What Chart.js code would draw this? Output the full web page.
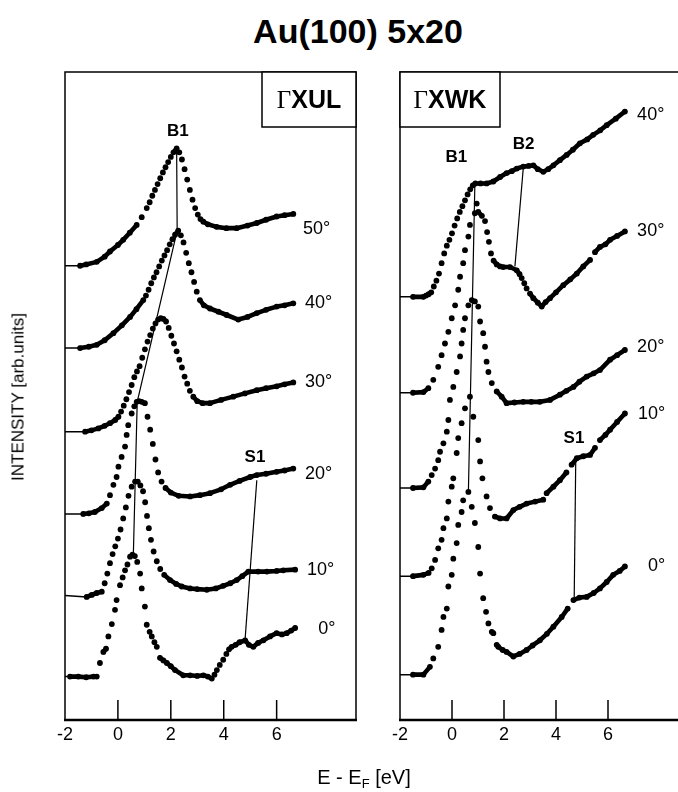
<!DOCTYPE html>
<html>
<head>
<meta charset="utf-8">
<script src="https://cdn.jsdelivr.net/npm/chart.js@4.4.1/dist/chart.umd.min.js"></script>
<style>
html, body { margin:0; padding:0; background:#fff; overflow:hidden; }
#wrap { position:relative; width:678px; height:792px; overflow:hidden; background:#fff; font-family:"Liberation Sans", Arial, sans-serif; color:#000; }
#title { position:absolute; left:0; width:716px; top:14px; text-align:center; font-weight:bold; font-size:34px; line-height:1; white-space:nowrap; }
#xlabel { position:absolute; left:0; width:728px; top:767px; text-align:center; font-size:20px; line-height:1; white-space:nowrap; }
#xlabel sub { font-size:13px; vertical-align:-4px; line-height:0; }
#ylabel { position:absolute; left:18px; top:397px; transform:translate(-50%,-50%) rotate(-90deg); font-size:17px; line-height:1; white-space:nowrap; }
canvas { position:absolute; top:0; }
</style>
</head>
<body>
<div id="wrap">
  <div id="title">Au(100) 5x20</div>
  <canvas id="cL" width="380" height="792" style="left:0;width:380px;height:792px"></canvas>
  <canvas id="cR" width="330" height="792" style="left:370px;width:330px;height:792px"></canvas>
  <div id="ylabel">INTENSITY [arb.units]</div>
  <div id="xlabel">E - E<sub>F</sub> [eV]</div>
</div>
<script>
// ---------- axis ----------
const tickValues = [-2, 0, 2, 4, 6];
const xMin = -2, xMax = 9, yMin = 0, yMax = 100;

// ---------- left panel (Gamma X U L) ----------
const eL50 = [-2,-1.43,-1.2,-0.8,-0.5,-0.3,0,0.2,0.45,0.71,0.9,1.09,1.2,1.3,1.4,1.5,1.6,1.7,1.8,1.9,2.0,2.1,2.22,2.32,2.42,2.52,2.62,2.72,2.82,2.92,3.02,3.12,3.23,3.4,3.73,4.1,4.49,4.9,5.25,5.6,6.0,6.3,6.63];
const iL50 = [70.1,70.1,70.3,70.7,71.5,72.3,73.3,74.1,75.2,76.4,77.6,79.0,79.9,80.9,81.8,82.7,83.6,84.5,85.3,86.1,86.9,87.6,88.2,87.6,86.5,85.0,83.4,81.8,80.3,79.0,78.0,77.3,76.9,76.5,76.1,75.9,75.9,76.3,76.7,77.2,77.7,77.9,78.1];

const eL40 = [-2,-1.43,-1.1,-0.8,-0.5,-0.17,0.15,0.46,0.7,0.96,1.06,1.16,1.26,1.36,1.46,1.56,1.66,1.76,1.86,1.96,2.06,2.16,2.28,2.38,2.48,2.58,2.68,2.78,2.88,2.98,3.10,3.25,3.48,3.8,4.11,4.55,4.9,5.25,5.6,6.0,6.3,6.63];
const iL40 = [57.4,57.4,57.6,57.9,58.6,59.7,60.9,62.2,63.4,64.8,65.5,66.4,67.4,68.3,69.1,70.0,70.9,71.7,72.5,73.4,74.2,74.9,75.5,74.8,73.7,72.1,70.5,69.1,67.6,66.1,64.8,64.0,63.5,63.0,62.5,61.8,62.2,62.8,63.3,63.8,64.0,64.3];

const eL30 = [-2,-1.24,-1.0,-0.74,-0.5,-0.3,-0.1,0.02,0.12,0.22,0.32,0.42,0.52,0.62,0.72,0.82,0.92,1.02,1.12,1.22,1.32,1.42,1.52,1.62,1.72,1.82,1.92,2.02,2.12,2.22,2.32,2.42,2.52,2.62,2.72,2.85,3.0,3.2,3.48,3.9,4.36,4.8,5.25,5.6,6.0,6.3,6.63];
const iL30 = [44.5,44.5,44.7,45.0,45.4,45.8,46.3,46.8,47.6,48.5,49.5,50.6,51.7,52.9,53.8,54.6,55.9,57.2,58.4,59.4,60.4,61.2,61.8,62.0,61.9,61.5,60.5,59.3,58.1,56.9,55.6,54.4,53.0,51.9,50.8,49.9,49.2,48.9,48.9,49.4,49.9,50.4,50.9,51.2,51.5,51.8,52.1];

const eL20 = [-2,-1.31,-1.1,-0.87,-0.61,-0.42,-0.30,-0.17,-0.05,0.02,0.14,0.27,0.33,0.39,0.52,0.62,0.71,0.80,0.90,1.02,1.12,1.22,1.32,1.42,1.52,1.65,1.8,2.0,2.3,2.73,3.1,3.48,3.9,4.24,4.6,5.0,5.25,5.6,6.0,6.3,6.63];
const iL20 = [31.8,31.8,31.9,32.1,32.7,33.4,34.7,36.3,37.5,39.1,40.6,42.2,44.0,45.5,47.3,48.4,49.1,49.2,49.1,48.9,46.8,44.8,42.6,40.2,38.2,36.8,35.8,35.1,34.6,34.5,34.7,35.0,35.6,36.3,36.9,37.5,37.8,38.0,38.3,38.5,38.8];

const eL10 = [-2,-1.18,-0.99,-0.80,-0.61,-0.5,-0.4,-0.3,-0.2,-0.1,0.0,0.1,0.2,0.3,0.4,0.52,0.65,0.75,0.85,0.95,1.03,1.1,1.17,1.25,1.35,1.47,1.6,1.75,1.97,2.2,2.41,2.73,3.0,3.36,3.7,3.98,4.25,4.49,4.7,4.93,5.3,5.63,6.0,6.25,6.7];
const iL10 = [19.2,19.0,19.3,19.6,19.8,21.1,22.6,24.2,25.6,26.8,28.0,29.4,31.1,32.8,34.6,36.0,36.8,36.8,36.2,35.3,33.6,31.5,29.6,27.8,26.0,24.5,23.3,22.4,21.6,21.0,20.6,20.3,20.2,20.1,20.3,20.7,21.1,21.6,22.2,22.9,22.9,22.9,23.0,23.1,23.2];

const eL0 = [-2,-1.81,-1.5,-1.2,-0.92,-0.80,-0.68,-0.55,-0.45,-0.36,-0.23,-0.11,-0.05,0.08,0.18,0.27,0.36,0.46,0.55,0.64,0.73,0.84,0.90,1.02,1.09,1.2,1.28,1.38,1.47,1.59,1.72,1.85,2.0,2.16,2.47,2.73,3.0,3.23,3.4,3.55,3.65,3.74,3.85,3.98,4.1,4.2,4.3,4.45,4.6,4.81,4.95,5.12,5.3,5.5,5.75,6.0,6.2,6.38,6.55,6.7];
const iL0 = [6.7,6.7,6.7,6.6,6.7,6.7,8.8,10.5,11.0,12.9,14.8,17.0,18.5,20.8,22.0,23.1,24.0,25.2,25.5,25.3,24.4,22.6,20.3,17.5,14.7,13.6,12.9,12.0,11.3,9.6,9.2,8.8,8.3,7.7,6.9,6.9,6.8,6.9,6.7,6.4,7.0,7.7,8.5,9.3,10.2,10.9,11.3,11.6,12.0,12.3,11.6,11.3,11.9,12.3,12.9,13.4,13.2,13.4,13.8,14.2];

// guide lines, left panel
const eLB1 = [2.22, 2.24, 0.73, 0.58];
const iLB1 = [88.2, 75.5, 49.1, 25.0];
const eLS1 = [5.25, 4.81];
const iLS1 = [37.0, 12.6];

// labels, left panel
const leftAngleText = ['50°','40°','30°','20°','10°','0°'];
const leftAngleE = [7.0, 7.07, 7.07, 7.07, 7.15, 7.57];
const leftAngleI = [75.7, 64.3, 52.2, 38.0, 23.1, 14.0];
const leftPeakText = ['B1','S1'];
const leftPeakE = [2.27, 5.18];
const leftPeakI = [90.9, 40.6];

// ---------- right panel (Gamma X W K) ----------
const eR40 = [-2,-1.5,-1.1,-1.0,-0.9,-0.8,-0.7,-0.6,-0.5,-0.4,-0.3,-0.2,-0.1,0.0,0.1,0.2,0.3,0.4,0.5,0.6,0.7,0.8,0.9,1.1,1.33,1.59,1.85,2.1,2.3,2.49,2.74,2.95,3.13,3.3,3.51,3.7,3.9,4.15,4.41,4.65,4.92,5.2,5.43,5.7,5.95,6.3,6.65];
const iR40 = [65.3,65.3,65.3,65.5,65.7,66.0,66.9,67.8,68.9,70.5,72.0,73.2,74.1,75.1,76.3,77.4,78.4,79.3,80.2,81.1,81.9,82.5,82.8,82.8,82.8,83.1,83.8,84.4,84.7,85.1,85.4,85.5,85.6,85.0,84.6,85.0,85.6,86.4,87.2,88.0,89.0,89.6,90.3,91.0,91.8,92.8,93.9];

const eR30 = [-2,-1.5,-1.1,-0.91,-0.72,-0.53,-0.40,-0.27,-0.14,-0.01,0.12,0.24,0.31,0.43,0.50,0.63,0.69,0.88,0.95,1.01,1.15,1.27,1.35,1.42,1.50,1.6,1.72,1.85,1.97,2.23,2.49,2.6,2.68,2.78,2.87,3.0,3.13,3.3,3.45,3.6,3.77,4.0,4.28,4.55,4.80,5.05,5.31,5.5,5.69,5.9,6.08,6.35,6.65];
const iR30 = [50.5,50.5,50.6,51.2,52.5,54.5,56.3,58.1,59.9,62.0,64.0,66.4,68.4,70.5,72.5,74.6,76.4,78.2,79.7,78.4,77.8,77.0,75.3,73.8,72.0,70.9,70.3,70.0,69.9,69.9,69.4,68.8,68.2,67.4,66.6,65.8,65.1,64.4,63.8,64.5,65.1,66.0,67.1,68.0,68.9,70.0,71.0,72.2,73.0,73.4,74.1,74.7,75.4];

const eR20 = [-2,-1.5,-1.1,-0.91,-0.78,-0.65,-0.53,-0.46,-0.33,-0.20,-0.14,-0.08,0.05,0.18,0.31,0.37,0.43,0.50,0.63,0.76,0.88,1.01,1.08,1.20,1.27,1.33,1.40,1.53,1.72,1.91,2.10,2.4,2.74,3.05,3.38,3.77,4.15,4.4,4.67,4.9,5.18,5.45,5.69,6.08,6.35,6.65];
const iR20 = [35.8,35.8,35.9,36.8,37.8,38.8,40.1,41.4,42.7,44.5,46.3,49.4,51.4,53.7,56.1,58.1,60.2,62.0,64.0,64.8,64.6,63.8,61.5,59.7,57.6,55.3,53.7,52.0,50.7,49.9,48.9,49.0,49.1,49.1,49.1,49.4,50.2,50.8,51.4,52.2,53.0,53.5,54.0,55.6,56.3,57.1];

const eR10 = [-2,-1.5,-1.1,-0.9,-0.78,-0.65,-0.53,-0.40,-0.33,-0.20,-0.14,-0.01,0.05,0.18,0.24,0.37,0.50,0.69,0.82,1.01,1.08,1.17,1.33,1.46,1.65,1.85,2.10,2.36,2.6,2.87,3.2,3.51,3.64,3.9,4.15,4.4,4.60,4.80,5.05,5.31,5.5,5.69,5.9,6.08,6.35,6.65];
const iR10 = [22.2,22.2,22.4,22.7,23.4,24.7,26.5,27.8,29.6,31.1,33.7,36.0,37.3,41.2,43.5,45.8,48.1,49.9,46.8,43.2,39.9,37.3,34.5,32.7,31.4,31.1,31.1,32.4,32.9,33.4,33.7,34.0,35.0,36.0,37.0,38.2,39.4,40.4,40.7,40.9,42.0,43.2,44.0,44.8,46.0,47.3];

const eR0 = [-2,-1.5,-1.1,-0.85,-0.72,-0.53,-0.40,-0.33,-0.20,-0.14,-0.01,0.05,0.18,0.24,0.37,0.43,0.63,0.76,0.88,1.01,1.08,1.20,1.31,1.40,1.53,1.59,1.72,1.78,1.95,2.10,2.36,2.6,2.87,3.1,3.38,3.65,3.90,4.22,4.45,4.67,4.9,5.18,5.45,5.69,5.95,6.20,6.45,6.65];
const iR0 = [7.0,7.0,7.0,8.2,9.5,11.3,13.9,15.9,17.2,20.6,22.4,24.9,27.3,30.1,32.1,33.9,35.2,32.9,30.4,26.7,22.6,18.8,16.7,14.9,13.6,13.4,11.6,11.3,10.8,10.5,9.8,10.2,10.8,11.5,12.3,13.3,14.4,15.9,17.2,18.5,18.9,19.0,19.6,20.3,21.3,22.4,23.0,23.7];

// guide lines, right panel
const eRB1 = [0.88, 0.63];
const iRB1 = [82.8, 35.2];
const eRB2 = [2.74, 2.42];
const iRB2 = [85.1, 70.0];
const eRS1 = [4.76, 4.70];
const iRS1 = [40.4, 18.8];

// labels, right panel
const rightAngleText = ['40°','30°','20°','10°','0°'];
const rightAngleE = [7.12, 7.12, 7.12, 7.15, 7.54];
const rightAngleI = [93.4, 75.4, 57.5, 47.2, 23.8];
const rightPeakText = ['B1','B2','S1'];
const rightPeakE = [0.17, 2.75, 4.69];
const rightPeakI = [86.8, 88.9, 43.4];

// ---------- helpers ----------
const FONT = '"Liberation Sans", Arial, sans-serif';
function pts(E, I) { return E.map((e, k) => ({ x: e, y: I[k] })); }

function curve(E, I) {
  return {
    data: pts(E, I),
    showLine: true,
    borderColor: '#000',
    borderWidth: 4.6,
    borderCapStyle: 'round',
    borderJoinStyle: 'round',
    pointRadius: c => (c.dataIndex === 0 ? 0 : 2.9),
    pointBackgroundColor: '#000',
    pointBorderWidth: 0,
    tension: 0,
    segment: {
      borderColor: c => {
        const dx = Math.abs(c.p1.x - c.p0.x), dy = Math.abs(c.p1.y - c.p0.y);
        return dy > 1.45 * dx ? 'rgba(0,0,0,0)' : '#000';
      },
      borderWidth: c => (c.p0DataIndex === 0 ? 1.5 : 4.6)
    }
  };
}
function guide(E, I) {
  return { data: pts(E, I), showLine: true, borderColor: '#000', borderWidth: 1.2, pointRadius: 0, tension: 0 };
}

function deco(cfg) {
  return {
    id: 'deco' + cfg.name,
    afterDatasetsDraw(chart) {
      const { ctx, chartArea: a } = chart;
      const x = chart.scales.x, y = chart.scales.y;
      ctx.save();
      ctx.strokeStyle = '#000';
      ctx.fillStyle = '#000';
      // frame
      ctx.lineWidth = 1.5;
      ctx.beginPath();
      ctx.moveTo(a.left, a.bottom); ctx.lineTo(a.left, a.top);
      ctx.lineTo(a.right, a.top); ctx.lineTo(a.right, a.bottom);
      ctx.stroke();
      ctx.lineWidth = 2.5;
      ctx.beginPath(); ctx.moveTo(a.left - 1, a.bottom); ctx.lineTo(a.right + 1, a.bottom); ctx.stroke();
      // inward ticks
      ctx.lineWidth = 1.5;
      tickValues.forEach(v => {
        if (v === xMin) return;
        const px = x.getPixelForValue(v);
        ctx.beginPath(); ctx.moveTo(px, a.bottom); ctx.lineTo(px, a.bottom - 20); ctx.stroke();
      });
      // direction box
      const bw = cfg.boxWidth, bh = 55;
      const bx = cfg.boxSide === 'right' ? a.right - bw : a.left;
      ctx.fillStyle = '#fff';
      ctx.fillRect(bx, a.top, bw, bh);
      ctx.fillStyle = '#000';
      ctx.lineWidth = 1.5;
      ctx.strokeRect(bx, a.top, bw, bh);
      const fs = 25;
      ctx.textBaseline = 'alphabetic';
      ctx.textAlign = 'left';
      ctx.font = `${fs}px "Liberation Serif", serif`;
      const wG = ctx.measureText('\u0393').width;
      ctx.font = `bold ${fs}px ${FONT}`;
      const wR = ctx.measureText(cfg.boxText).width;
      const sx = bx + bw / 2 - (wG + wR) / 2, by = a.top + 36;
      ctx.font = `${fs}px "Liberation Serif", serif`;
      ctx.fillText('\u0393', sx, by);
      ctx.font = `bold ${fs}px ${FONT}`;
      ctx.fillText(cfg.boxText, sx + wG, by);
      // angle labels
      ctx.font = `18px ${FONT}`;
      ctx.textAlign = 'left';
      ctx.textBaseline = 'middle';
      cfg.angleText.forEach((t, k) => ctx.fillText(t, x.getPixelForValue(cfg.angleE[k]), y.getPixelForValue(cfg.angleI[k])));
      // feature labels
      ctx.font = `bold 17px ${FONT}`;
      ctx.textAlign = 'center';
      cfg.peakText.forEach((t, k) => ctx.fillText(t, x.getPixelForValue(cfg.peakE[k]), y.getPixelForValue(cfg.peakI[k])));
      ctx.restore();
    }
  };
}

function options(pad) {
  return {
    responsive: false,
    animation: false,
    layout: { padding: pad },
    plugins: { legend: { display: false }, tooltip: { enabled: false } },
    scales: {
      x: {
        type: 'linear', min: xMin, max: xMax,
        afterBuildTicks: s => { s.ticks = tickValues.map(v => ({ value: v })); },
        afterFit: s => { s.height = 40; },
        ticks: { color: '#000', font: { size: 18, family: FONT }, padding: 4, maxRotation: 0, autoSkip: false },
        grid: { display: false, drawTicks: false },
        border: { display: false }
      },
      y: { min: yMin, max: yMax, display: false }
    }
  };
}

new Chart(document.getElementById('cL'), {
  type: 'scatter',
  data: { datasets: [
    curve(eL50, iL50), curve(eL40, iL40), curve(eL30, iL30),
    curve(eL20, iL20), curve(eL10, iL10), curve(eL0, iL0),
    guide(eLB1, iLB1), guide(eLS1, iLS1)
  ] },
  options: options({ left: 65, right: 24, top: 72, bottom: 32 }),
  plugins: [deco({ name: 'L', boxSide: 'right', boxWidth: 94, boxText: 'XUL',
    angleText: leftAngleText, angleE: leftAngleE, angleI: leftAngleI,
    peakText: leftPeakText, peakE: leftPeakE, peakI: leftPeakI })]
});

new Chart(document.getElementById('cR'), {
  type: 'scatter',
  data: { datasets: [
    curve(eR40, iR40), curve(eR30, iR30), curve(eR20, iR20),
    curve(eR10, iR10), curve(eR0, iR0),
    guide(eRB1, iRB1), guide(eRB2, iRB2), guide(eRS1, iRS1)
  ] },
  options: options({ left: 30, right: 14, top: 72, bottom: 32 }),
  plugins: [deco({ name: 'R', boxSide: 'left', boxWidth: 100, boxText: 'XWK',
    angleText: rightAngleText, angleE: rightAngleE, angleI: rightAngleI,
    peakText: rightPeakText, peakE: rightPeakE, peakI: rightPeakI })]
});
</script>
</body>
</html>
